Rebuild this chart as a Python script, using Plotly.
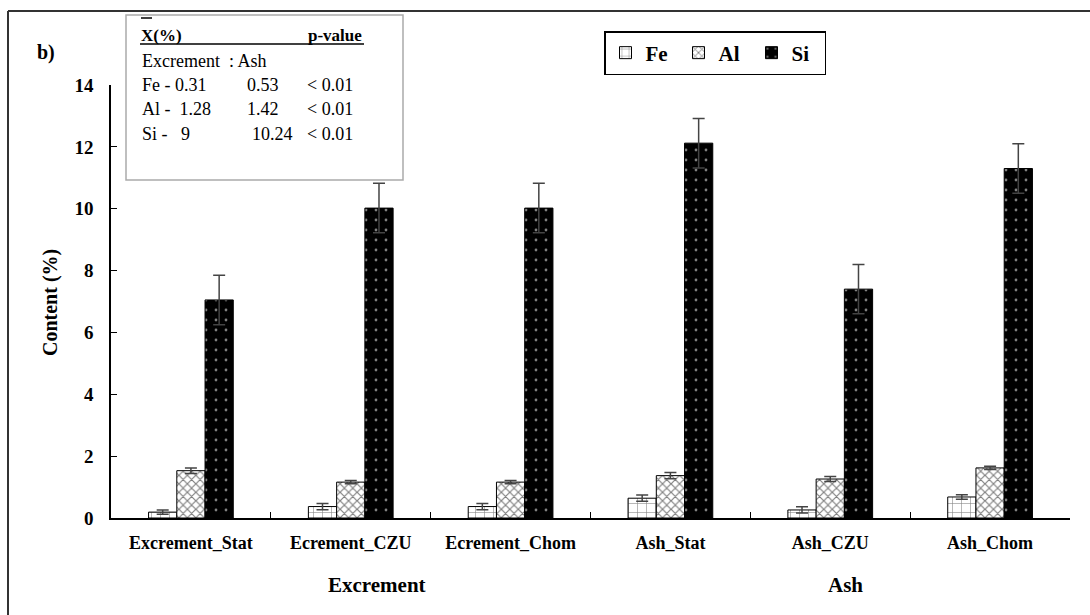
import plotly.graph_objects as go

# Sample groups and element contents (%)
categories = ["Excrement_Stat", "Ecrement_CZU", "Ecrement_Chom", "Ash_Stat", "Ash_CZU", "Ash_Chom"]
fe_values = [0.19, 0.37, 0.37, 0.64, 0.26, 0.68]
fe_errors = [0.07, 0.10, 0.10, 0.10, 0.10, 0.07]
al_values = [1.53, 1.16, 1.16, 1.37, 1.26, 1.62]
al_errors = [0.09, 0.05, 0.05, 0.10, 0.08, 0.05]
si_values = [7.05, 10.02, 10.02, 12.12, 7.40, 11.30]
si_errors = [0.80, 0.80, 0.80, 0.80, 0.80, 0.80]

y_ticks = [0, 2, 4, 6, 8, 10, 12, 14]
group_labels = ["Excrement", "Ash"]

# Summary table: mean content (Excrement : Ash) and p-values
table_rows = [
    ("Fe - 0.31", "0.53", "< 0.01"),
    ("Al -  1.28", "1.42", "< 0.01"),
    ("Si -   9", "10.24", "< 0.01"),
]

W, H = 1090, 615
L, R, T, B = 111, 1070, 85, 518
SERIF = '"Liberation Serif", "Times New Roman", serif'


def px(xp):
    return (xp - L) / (R - L)


def py(yp):
    return (B - yp) / (B - T)


err_style = dict(type="data", thickness=1.5, width=6, color="#444")

fig = go.Figure()
fig.add_trace(go.Bar(
    name="Fe", x=categories, y=fe_values,
    error_y=dict(array=fe_errors, **err_style),
    marker=dict(color="white", line=dict(color="black", width=1),
                pattern=dict(shape="+", fgcolor="black", bgcolor="white", size=9, solidity=0.12)),
))
fig.add_trace(go.Bar(
    name="Al", x=categories, y=al_values,
    error_y=dict(array=al_errors, **err_style),
    marker=dict(color="white", line=dict(color="black", width=1),
                pattern=dict(shape="x", fgcolor="black", bgcolor="white", size=6, solidity=0.35)),
))
fig.add_trace(go.Bar(
    name="Si", x=categories, y=si_values,
    error_y=dict(array=si_errors, **err_style),
    marker=dict(color="black", line=dict(color="black", width=1),
                pattern=dict(shape=".", fgcolor="white", size=10, solidity=0.06, fillmode="overlay")),
))

annotations = [
    dict(text="<b>b)</b>", x=px(35), y=py(53), xref="paper", yref="paper",
         xanchor="left", yanchor="middle", showarrow=False, font=dict(size=20, family=SERIF, color="black")),
    dict(text="<b>Content (%)</b>", x=px(50), y=py(302), xref="paper", yref="paper", textangle=-90,
         xanchor="center", yanchor="middle", showarrow=False, font=dict(size=20, family=SERIF, color="black")),
    dict(text="<b>" + group_labels[0] + "</b>", x=px(377), y=py(585), xref="paper", yref="paper",
         xanchor="center", yanchor="middle", showarrow=False, font=dict(size=21, family=SERIF, color="black")),
    dict(text="<b>" + group_labels[1] + "</b>", x=px(845), y=py(585), xref="paper", yref="paper",
         xanchor="center", yanchor="middle", showarrow=False, font=dict(size=21, family=SERIF, color="black")),
    # table header
    dict(text="<b>X(%)</b>", x=px(139), y=py(35), xref="paper", yref="paper",
         xanchor="left", yanchor="middle", showarrow=False, font=dict(size=17, family=SERIF, color="black")),
    dict(text="<b>p-value</b>", x=px(364), y=py(35), xref="paper", yref="paper",
         xanchor="right", yanchor="middle", showarrow=False, font=dict(size=17, family=SERIF, color="black")),
    dict(text="Excrement  : Ash", x=px(140), y=py(61), xref="paper", yref="paper",
         xanchor="left", yanchor="middle", showarrow=False, font=dict(size=18, family=SERIF, color="black")),
]
row_y = [85, 109, 134]
col_x = [140, 245, 305]
for (c1, c2, c3), yy in zip(table_rows, row_y):
    for txt, xx in zip((c1, c2, c3), col_x):
        xpos = xx + (5 if txt == "10.24" else 0)
        annotations.append(dict(text=txt, x=px(xpos), y=py(yy), xref="paper", yref="paper",
                                xanchor="left", yanchor="middle", showarrow=False,
                                font=dict(size=18, family=SERIF, color="black")))

shapes = [
    # outer frame (top and left edges)
    dict(type="line", xref="paper", yref="paper", x0=px(8), x1=px(1095), y0=py(11), y1=py(11),
         line=dict(color="#333", width=2)),
    dict(type="line", xref="paper", yref="paper", x0=px(8), x1=px(8), y0=py(11), y1=py(620),
         line=dict(color="#333", width=2)),
    # summary table box
    dict(type="rect", xref="paper", yref="paper", x0=px(126), x1=px(403), y0=py(15), y1=py(180),
         line=dict(color="#aaa", width=1.5), fillcolor="white", layer="above"),
    # overline above X and header underline
    dict(type="line", xref="paper", yref="paper", x0=px(141), x1=px(152), y0=py(18), y1=py(18),
         line=dict(color="black", width=1.5)),
    dict(type="line", xref="paper", yref="paper", x0=px(140), x1=px(364), y0=py(44), y1=py(44),
         line=dict(color="black", width=1.5)),
]

fig.update_layout(
    width=W, height=H,
    margin=dict(l=L, r=W - R, t=T, b=H - B),
    paper_bgcolor="white", plot_bgcolor="white",
    barmode="group", bargap=0.47, bargroupgap=0,
    font=dict(family=SERIF, color="black"),
    showlegend=True,
    legend=dict(orientation="h", x=px(604), y=py(31), xanchor="left", yanchor="top",
                bordercolor="black", borderwidth=1.5, bgcolor="white",
                font=dict(size=21, family=SERIF, color="black", weight="bold"),
                itemwidth=30, tracegroupgap=0, entrywidth=28, entrywidthmode="pixels"),
    annotations=annotations,
    shapes=shapes,
)
fig.update_yaxes(range=[0, 14], tickvals=y_ticks, showgrid=False, zeroline=False,
                 showline=True, linecolor="black", linewidth=1.5,
                 ticks="inside", ticklen=6, tickcolor="black",
                 ticklabelstandoff=12,
                 tickfont=dict(size=19, family=SERIF, color="black", weight="bold"))
fig.update_xaxes(showgrid=False, showline=True, linecolor="black", linewidth=1.5,
                 ticks="inside", ticklen=6, tickson="boundaries", tickcolor="black",
                 ticklabelstandoff=8,
                 tickfont=dict(size=18, family=SERIF, color="black", weight="bold"))

fig.write_html("out.html")
